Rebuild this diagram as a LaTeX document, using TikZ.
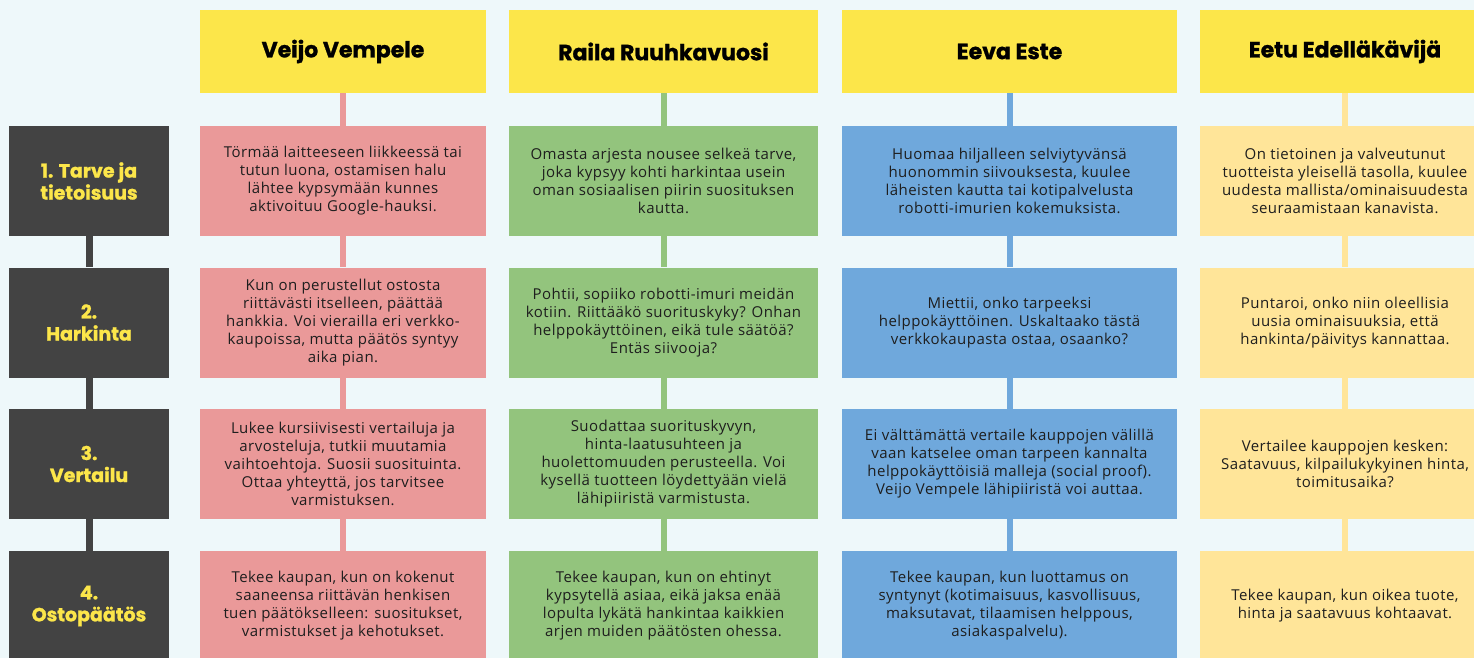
\documentclass[tikz,border=0pt]{standalone}
\usepackage{fontspec}
\setmainfont{Open Sans}[LetterSpace=3]
\newfontfamily\headfont{Poppins}[BoldFeatures={FakeBold=1.2}]
\definecolor{bgcol}{HTML}{EEF8FA}
\definecolor{headyellow}{HTML}{FCE64A}
\definecolor{pinkcol}{HTML}{EA9999}
\definecolor{greencol}{HTML}{93C47D}
\definecolor{bluecol}{HTML}{6FA8DC}
\definecolor{paleyellow}{HTML}{FFE599}
\definecolor{darkgrey}{HTML}{434343}
\definecolor{labelyellow}{HTML}{FCE64A}
\definecolor{textdark}{HTML}{1E1E1E}
\tikzset{
  head/.style={fill=headyellow, minimum height=83pt, inner sep=0pt,
    font=\headfont\bfseries\fontsize{22}{26}\selectfont, text=black},
  phase/.style={fill=darkgrey, minimum width=160pt, minimum height=110pt,
    inner sep=0pt, align=center, text=labelyellow,
    font=\headfont\bfseries\fontsize{19}{22}\selectfont},
  cell/.style={minimum height=110pt, inner sep=0pt, align=center,
    font=\fontsize{15}{18}\selectfont, text=textdark},
  colA/.style={minimum width=286pt},
  colB/.style={minimum width=309pt},
  colC/.style={minimum width=335pt},
  colD/.style={minimum width=290pt},
  link/.style={line width=6pt},
}
\begin{document}
\begin{tikzpicture}[x=1pt,y=-1pt]
\fill[bgcol] (0,0) rectangle (1474,658);
\useasboundingbox (0,0) rectangle (1474,658);
\clip (0,0) rectangle (1474,658);

% persona headers
\node[head,colA] (hA) at (343,51.5) {Veijo Vempele};
\node[head,colB] (hB) at (663.5,51.5) {Raila Ruuhkavuosi};
\node[head,colC] (hC) at (1009.5,51.5) {Eeva Este};
\node[head,colD] (hD) at (1345,51.5) {Eetu Edelläkävijä};

% phase labels
\node[phase] (p1) at (89,181) {1. Tarve ja\\tietoisuus};
\node[phase] (p2) at (89,322.5) {2.\\Harkinta};
\node[phase] (p3) at (89,464) {3.\\Vertailu};
\node[phase] (p4) at (89,606) {4.\\Ostopäätös};

% row 1
\node[cell,colA,fill=pinkcol] (a1) at (343,181) {Törmää laitteeseen liikkeessä tai\\tutun luona, ostamisen halu\\lähtee kypsymään kunnes\\aktivoituu Google-hauksi.};
\node[cell,colB,fill=greencol] (b1) at (663.5,181) {Omasta arjesta nousee selkeä tarve,\\joka kypsyy kohti harkintaa usein\\oman sosiaalisen piirin suosituksen\\kautta.};
\node[cell,colC,fill=bluecol] (c1) at (1009.5,181) {Huomaa hiljalleen selviytyvänsä\\huonommin siivouksesta, kuulee\\läheisten kautta tai kotipalvelusta\\robotti-imurien kokemuksista.};
\node[cell,colD,fill=paleyellow] (d1) at (1345,181) {On tietoinen ja valveutunut\\tuotteista yleisellä tasolla, kuulee\\uudesta mallista/ominaisuudesta\\seuraamistaan kanavista.};

% row 2
\node[cell,colA,fill=pinkcol] (a2) at (343,322.5) {Kun on perustellut ostosta\\riittävästi itselleen, päättää\\hankkia. Voi vierailla eri verkko-\\kaupoissa, mutta päätös syntyy\\aika pian.};
\node[cell,colB,fill=greencol] (b2) at (663.5,322.5) {Pohtii, sopiiko robotti-imuri meidän\\kotiin. Riittääkö suorituskyky? Onhan\\helppokäyttöinen, eikä tule säätöä?\\Entäs siivooja?};
\node[cell,colC,fill=bluecol] (c2) at (1009.5,322.5) {Miettii, onko tarpeeksi\\helppokäyttöinen. Uskaltaako tästä\\verkkokaupasta ostaa, osaanko?};
\node[cell,colD,fill=paleyellow] (d2) at (1345,322.5) {Puntaroi, onko niin oleellisia\\uusia ominaisuuksia, että\\hankinta/päivitys kannattaa.};

% row 3
\node[cell,colA,fill=pinkcol] (a3) at (343,464) {Lukee kursiivisesti vertailuja ja\\arvosteluja, tutkii muutamia\\vaihtoehtoja. Suosii suosituinta.\\Ottaa yhteyttä, jos tarvitsee\\varmistuksen.};
\node[cell,colB,fill=greencol] (b3) at (663.5,464) {Suodattaa suorituskyvyn,\\hinta-laatusuhteen ja\\huolettomuuden perusteella. Voi\\kysellä tuotteen löydettyään vielä\\lähipiiristä varmistusta.};
\node[cell,colC,fill=bluecol] (c3) at (1009.5,464) {Ei välttämättä vertaile kauppojen välillä\\vaan katselee oman tarpeen kannalta\\helppokäyttöisiä malleja (social proof).\\Veijo Vempele lähipiiristä voi auttaa.};
\node[cell,colD,fill=paleyellow] (d3) at (1345,464) {Vertailee kauppojen kesken:\\Saatavuus, kilpailukykyinen hinta,\\toimitusaika?};

% row 4
\node[cell,colA,fill=pinkcol] (a4) at (343,606) {Tekee kaupan, kun on kokenut\\saaneensa riittävän henkisen\\tuen päätökselleen: suositukset,\\varmistukset ja kehotukset.};
\node[cell,colB,fill=greencol] (b4) at (663.5,606) {Tekee kaupan, kun on ehtinyt\\kypsytellä asiaa, eikä jaksa enää\\lopulta lykätä hankintaa kaikkien\\arjen muiden päätösten ohessa.};
\node[cell,colC,fill=bluecol] (c4) at (1009.5,606) {Tekee kaupan, kun luottamus on\\syntynyt (kotimaisuus, kasvollisuus,\\maksutavat, tilaamisen helppous,\\asiakaspalvelu).};
\node[cell,colD,fill=paleyellow] (d4) at (1345,606) {Tekee kaupan, kun oikea tuote,\\hinta ja saatavuus kohtaavat.};

% connectors
\draw[link,darkgrey,line width=7pt] (p1.south) -- (p2.north) (p2.south) -- (p3.north) (p3.south) -- (p4.north);
\draw[link,pinkcol] (hA.south) -- (a1.north) (a1.south) -- (a2.north) (a2.south) -- (a3.north) (a3.south) -- (a4.north);
\draw[link,greencol] (hB.south) -- (b1.north) (b1.south) -- (b2.north) (b2.south) -- (b3.north) (b3.south) -- (b4.north);
\draw[link,bluecol] (hC.south) -- (c1.north) (c1.south) -- (c2.north) (c2.south) -- (c3.north) (c3.south) -- (c4.north);
\draw[link,paleyellow] (hD.south) -- (d1.north) (d1.south) -- (d2.north) (d2.south) -- (d3.north) (d3.south) -- (d4.north);
\end{tikzpicture}
\end{document}
